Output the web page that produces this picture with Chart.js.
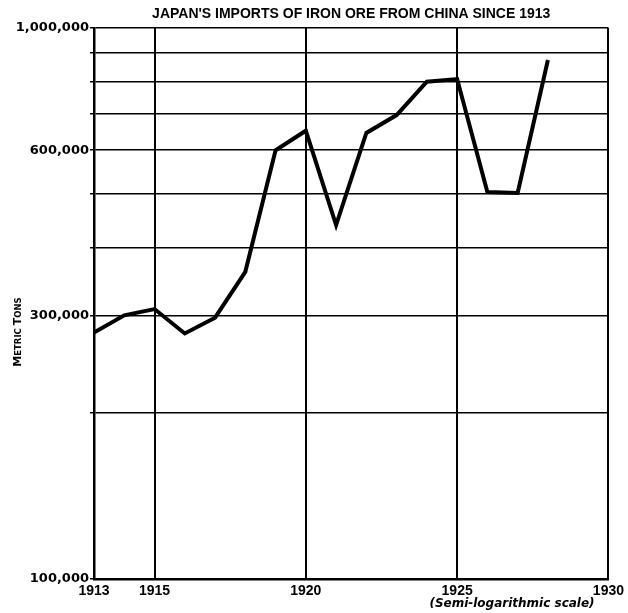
<!DOCTYPE html>
<html><head><meta charset="utf-8">
<script src="https://cdn.jsdelivr.net/npm/chart.js@4/dist/chart.umd.min.js"></script>
<style>html,body{margin:0;padding:0;background:#fff;} canvas{display:block;}</style>
</head><body>
<canvas id="c" width="628" height="613"></canvas>
<script>
const years = [1913,1914,1915,1916,1917,1918,1919,1920,1921,1922,1923,1924,1925,1926,1927,1928];
const importsTons = [280000,301000,309000,279000,298000,361000,600000,651000,439000,645000,695000,799000,808000,504000,502000,875000];
const xTickYears = [1913,1915,1920,1925,1930];
const yGridValues = [100000,200000,300000,400000,500000,600000,700000,800000,900000,1000000];
const yLabelValues = [100000,300000,600000,1000000];
const titleText = "JAPAN'S IMPORTS OF IRON ORE FROM CHINA SINCE 1913";
const scaleNote = "(Semi-logarithmic scale)";

const textPlugin = {
  id: 'texts',
  afterDraw(chart) {
    const ctx = chart.ctx;
    const a = chart.chartArea;
    ctx.save();
    ctx.fillStyle = '#000';
    // title
    ctx.font = 'bold 14px "Liberation Sans", Arial, sans-serif';
    ctx.textAlign = 'center';
    ctx.textBaseline = 'middle';
    ctx.fillText(titleText, (a.left + a.right) / 2, 14);
    // y axis title (small caps)
    ctx.translate(17, 332);
    ctx.rotate(-Math.PI / 2);
    const parts = [['M', 11], ['ETRIC ', 8.5], ['T', 11], ['ONS', 8.5]];
    let total = 0;
    parts.forEach(p => { ctx.font = 'bold ' + p[1] + 'px "DejaVu Sans", sans-serif'; total += ctx.measureText(p[0]).width; });
    let x = -total / 2;
    ctx.textAlign = 'left';
    ctx.textBaseline = 'alphabetic';
    parts.forEach(p => { ctx.font = 'bold ' + p[1] + 'px "DejaVu Sans", sans-serif'; ctx.fillText(p[0], x, 4); x += ctx.measureText(p[0]).width; });
    ctx.restore();
    ctx.save();
    ctx.fillStyle = '#000';
    ctx.font = 'italic bold 12px "DejaVu Sans", sans-serif';
    ctx.textAlign = 'center';
    ctx.textBaseline = 'middle';
    ctx.fillText(scaleNote, 512, 604);
    ctx.restore();
  }
};

new Chart(document.getElementById('c'), {
  type: 'line',
  data: {
    datasets: [{
      data: years.map((y, i) => ({ x: y, y: importsTons[i] })),
      borderColor: '#000',
      borderWidth: 4,
      pointRadius: 0,
      tension: 0,
      fill: false,
      borderJoinStyle: 'miter'
    }]
  },
  options: {
    responsive: false,
    animation: false,
    devicePixelRatio: 1,
    layout: { padding: { top: 28, right: 18, left: 0, bottom: 0 } },
    plugins: { legend: { display: false }, tooltip: { enabled: false }, title: { display: false } },
    scales: {
      x: {
        type: 'linear',
        min: 1913, max: 1930,
        afterBuildTicks: s => { s.ticks = xTickYears.map(v => ({ value: v })); },
        afterFit: s => { s.height = 34; },
        grid: { color: '#000', lineWidth: 2, drawTicks: false },
        border: { color: '#000', width: 2.5 },
        ticks: {
          color: '#000', padding: 4, maxRotation: 0, autoSkip: false,
          font: { family: '"Liberation Sans", Arial, sans-serif', weight: 'bold', size: 14 },
          callback: v => String(v)
        }
      },
      y: {
        type: 'logarithmic',
        min: 100000, max: 1000000,
        afterBuildTicks: s => { s.ticks = yGridValues.map(v => ({ value: v })); },
        afterFit: s => { s.width = 94; },
        grid: { color: '#000', lineWidth: 1.5, drawTicks: true, tickLength: 4 },
        border: { color: '#000', width: 2.5 },
        ticks: {
          color: '#000', padding: 1, autoSkip: false,
          font: { family: '"DejaVu Sans", sans-serif', weight: 'bold', size: 13 },
          callback: v => yLabelValues.includes(v) ? v.toLocaleString('en-US') : ''
        }
      }
    }
  },
  plugins: [textPlugin]
});
</script>
</body></html>
